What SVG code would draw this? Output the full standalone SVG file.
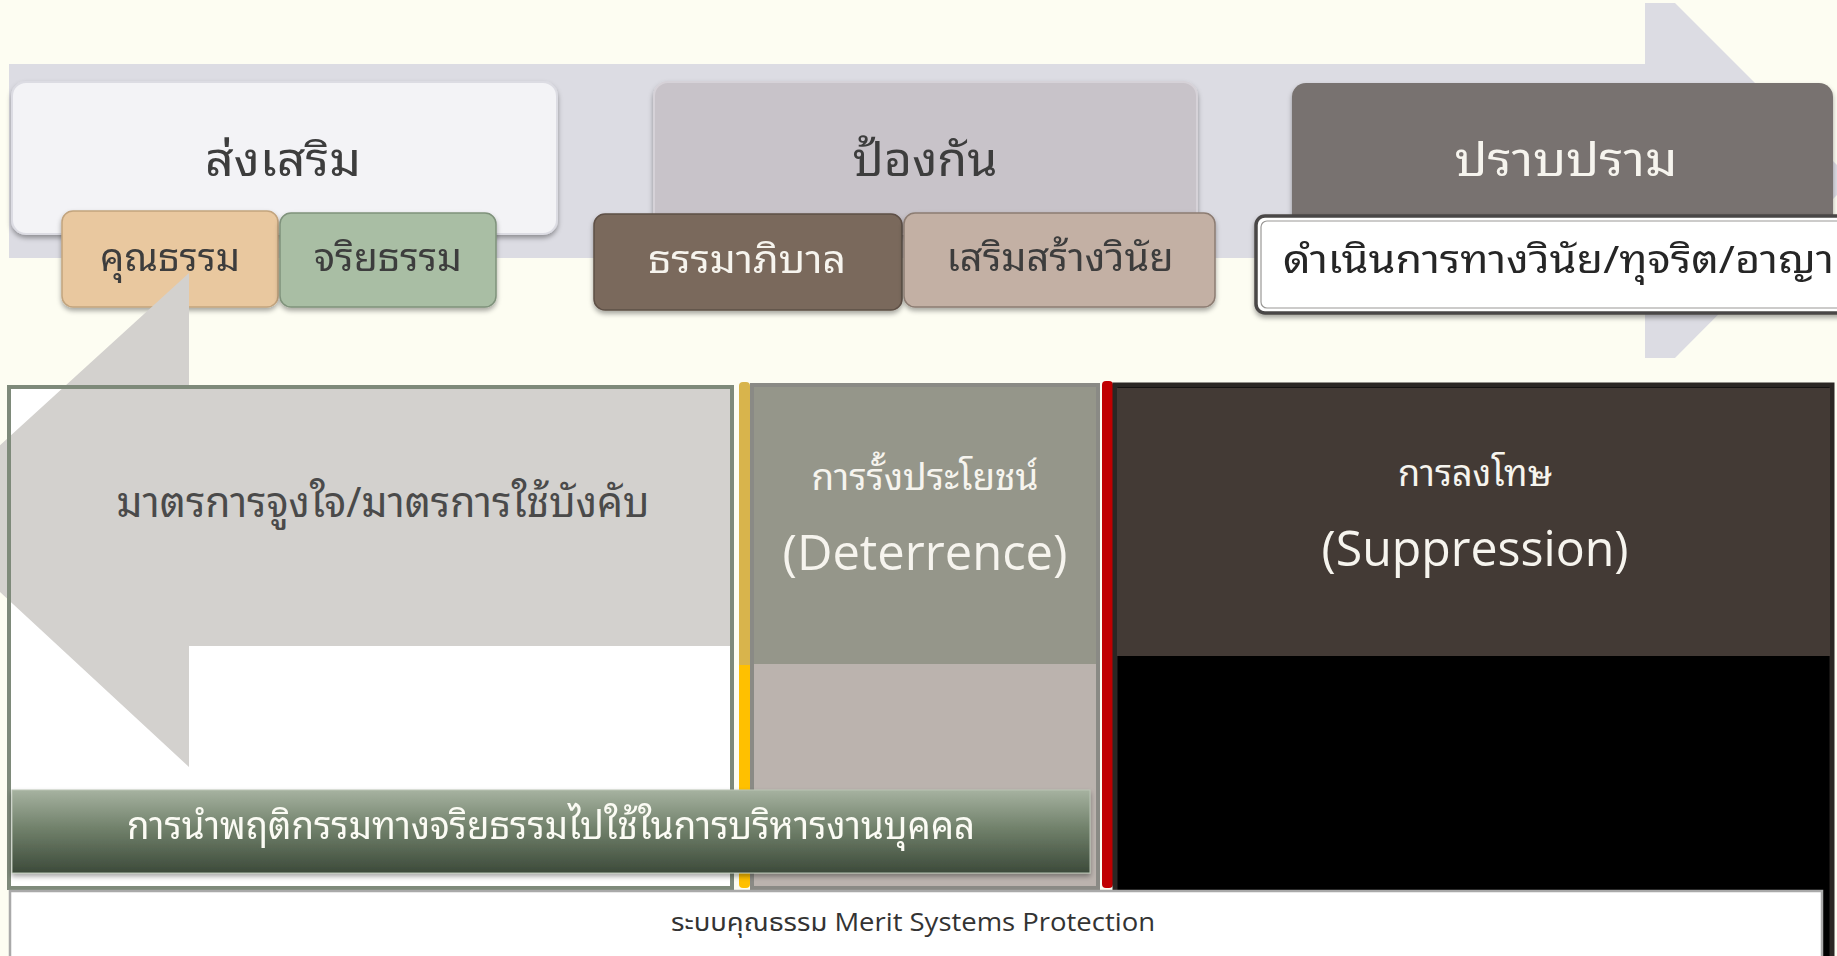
<svg xmlns="http://www.w3.org/2000/svg" width="1837" height="956" viewBox="0 0 1837 956">
<defs>
<style>
.th{font-family:"Noto Sans Thai Looped","Noto Serif Thai","Noto Sans Thai","Noto Sans","DejaVu Sans",sans-serif;}
.en{font-family:"Open Sans","Noto Sans Thai","Noto Sans",sans-serif;}
.dark{fill:#3c3c3c;}
.light{fill:#f6f4ee;}
</style>
<filter id="sh" x="-10%" y="-20%" width="120%" height="150%">
<feDropShadow dx="0" dy="3" stdDeviation="2.5" flood-color="#000" flood-opacity="0.35"/>
</filter>
<linearGradient id="gbar" x1="0" y1="0" x2="0" y2="1">
<stop offset="0" stop-color="#a6b2a0"/>
<stop offset="0.45" stop-color="#72826c"/>
<stop offset="1" stop-color="#3c4a3a"/>
</linearGradient>
<linearGradient id="ybar" x1="0" y1="0" x2="0" y2="1">
<stop offset="0" stop-color="#d8b44c"/>
<stop offset="0.56" stop-color="#d8b44c"/>
<stop offset="0.56" stop-color="#ffc000"/>
<stop offset="1" stop-color="#ffc000"/>
</linearGradient>
</defs>
<rect x="0" y="0" width="1837" height="956" fill="#fdfdf2"/>

<g id="arrows">
<polygon points="9,64 1645,64 1645,3 1675,3 1852,180 1675,358 1645,358 1645,258 9,258" fill="#dcdce3"/>
</g>

<g id="box-promote" filter="url(#sh)">
<rect x="12" y="82" width="545" height="152" rx="14" fill="#f3f3f6" stroke="#dcdce3" stroke-width="2"/>
<text class="th dark" x="283" y="176" font-size="46" text-anchor="middle" textLength="156" lengthAdjust="spacingAndGlyphs">ส่งเสริม</text>
</g>
<g id="box-prevent" filter="url(#sh)">
<rect x="654" y="82" width="543" height="152" rx="14" fill="#c8c3c9" stroke="#d6d2d8" stroke-width="2"/>
<text class="th dark" x="925" y="176" font-size="46" text-anchor="middle" textLength="145" lengthAdjust="spacingAndGlyphs">ป้องกัน</text>
</g>
<g id="box-suppress" filter="url(#sh)">
<rect x="1292" y="83" width="541" height="152" rx="14" fill="#78726f"/>
<text class="th light" x="1566" y="176" font-size="46" text-anchor="middle" textLength="223" lengthAdjust="spacingAndGlyphs">ปราบปราม</text>
</g>

<g id="box-virtue" filter="url(#sh)">
<rect x="62" y="211" width="216" height="96" rx="11" fill="#e9c89f" stroke="#c2a47e" stroke-width="1.5"/>
<text class="th dark" x="170" y="271" font-size="38" text-anchor="middle" textLength="140" lengthAdjust="spacingAndGlyphs">คุณธรรม</text>
</g>
<g id="box-ethics" filter="url(#sh)">
<rect x="280" y="213" width="216" height="94" rx="11" fill="#a9bea4" stroke="#7f927b" stroke-width="1.5"/>
<text class="th dark" x="388" y="271" font-size="38" text-anchor="middle" textLength="148" lengthAdjust="spacingAndGlyphs">จริยธรรม</text>
</g>
<g id="box-governance" filter="url(#sh)">
<rect x="594" y="214" width="308" height="96" rx="11" fill="#7a695c" stroke="#5e5046" stroke-width="1.5"/>
<text class="th light" x="747" y="273" font-size="38" text-anchor="middle" textLength="198" lengthAdjust="spacingAndGlyphs">ธรรมาภิบาล</text>
</g>
<g id="box-discipline" filter="url(#sh)">
<rect x="904" y="213" width="311" height="94" rx="11" fill="#c3b0a4" stroke="#8c7c72" stroke-width="1.5"/>
<text class="th dark" x="1060" y="271" font-size="38" text-anchor="middle" textLength="227" lengthAdjust="spacingAndGlyphs">เสริมสร้างวินัย</text>
</g>
<g id="box-action" filter="url(#sh)">
<rect x="1256" y="216" width="600" height="97" rx="9" fill="#ffffff" stroke="#4a4746" stroke-width="3.5"/>
<rect x="1261" y="221" width="600" height="87" rx="6" fill="none" stroke="#9a9896" stroke-width="1.2"/>
<text class="th" fill="#262626" x="1283" y="273" font-size="38" textLength="551" lengthAdjust="spacingAndGlyphs">ดำเนินการทางวินัย/ทุจริต/อาญา</text>
</g>

<g id="panel-incentive">
<rect x="9" y="387" width="723" height="501" fill="#ffffff"/>
<polygon points="731,388 189,388 189,273 -80,518 189,767 189,646 731,646" fill="#d3d1ce"/>
<rect x="9" y="387" width="723" height="501" fill="none" stroke="#7e8a7a" stroke-width="4"/>
<text class="th" fill="#4a4a4a" x="383" y="517" font-size="42" text-anchor="middle" textLength="533" lengthAdjust="spacingAndGlyphs">มาตรการจูงใจ/มาตรการใช้บังคับ</text>
</g>

<g id="bar-yellow">
<rect x="739" y="382" width="11" height="506" rx="4" fill="url(#ybar)"/>
</g>

<g id="panel-deterrence">
<rect x="752" y="385" width="346" height="503" fill="#bbb3ae" stroke="#8a8a85" stroke-width="4"/>
<rect x="754" y="387" width="342" height="277" fill="#95968a"/>
<text class="th light" x="925" y="490" font-size="36" text-anchor="middle" textLength="227" lengthAdjust="spacingAndGlyphs">การรั้งประโยชน์</text>
<text class="en light" x="925" y="570" font-size="50" text-anchor="middle" textLength="285" lengthAdjust="spacingAndGlyphs">(Deterrence)</text>
</g>

<g id="bar-red">
<rect x="1102" y="381" width="11" height="507" rx="4" fill="#c00000"/>
</g>

<g id="panel-suppression">
<rect x="1115" y="385" width="717" height="580" fill="#000000" stroke="#2b2724" stroke-width="5"/>
<rect x="1117" y="388" width="713" height="268" fill="#433a35"/>
<text class="th light" x="1475" y="486" font-size="36" text-anchor="middle" textLength="154" lengthAdjust="spacingAndGlyphs">การลงโทษ</text>
<text class="en light" x="1475" y="566" font-size="50" text-anchor="middle" textLength="307" lengthAdjust="spacingAndGlyphs">(Suppression)</text>
</g>

<g id="bar-hr" filter="url(#sh)">
<rect x="12" y="790" width="1078" height="83" fill="url(#gbar)" stroke="#b9c4b4" stroke-width="1"/>
<text class="th" fill="#fbfbf4" x="127" y="839" font-size="38" textLength="848" lengthAdjust="spacingAndGlyphs">การนำพฤติกรรมทางจริยธรรมไปใช้ในการบริหารงานบุคคล</text>
</g>

<g id="bar-merit">
<rect x="10" y="891" width="1812" height="70" fill="#ffffff" stroke="#a9a9a9" stroke-width="2.5"/>
<text class="en" fill="#333333" x="913" y="931" font-size="25" text-anchor="middle" textLength="484" lengthAdjust="spacingAndGlyphs">ระบบคุณธรรม Merit Systems Protection</text>
</g>
</svg>
